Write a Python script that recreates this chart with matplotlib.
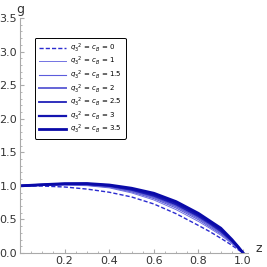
import numpy as np
import matplotlib
matplotlib.use('Agg')
import matplotlib.pyplot as plt

# ── 데이터 ──────────────────────────────────────────
z = [0.0, 0.1, 0.2, 0.3, 0.4, 0.5, 0.6, 0.7, 0.8, 0.85, 0.9, 0.95, 0.98, 1.0]

g_c0 = [1.0, 0.997, 0.983, 0.952, 0.905, 0.835, 0.73, 0.585, 0.41, 0.32, 0.22, 0.115, 0.045, 0.0]
g_c1 = [1.0, 1.008, 1.012, 1.003, 0.97, 0.895, 0.79, 0.645, 0.47, 0.37, 0.265, 0.14, 0.055, 0.0]
g_c15 = [1.0, 1.010, 1.017, 1.010, 0.98, 0.91, 0.81, 0.67, 0.495, 0.39, 0.285, 0.152, 0.06, 0.0]
g_c2 = [1.0, 1.012, 1.022, 1.018, 0.99, 0.925, 0.83, 0.695, 0.52, 0.415, 0.305, 0.165, 0.066, 0.0]
g_c25 = [1.0, 1.014, 1.026, 1.024, 0.998, 0.94, 0.85, 0.72, 0.545, 0.44, 0.325, 0.177, 0.072, 0.0]
g_c3 = [1.0, 1.016, 1.030, 1.030, 1.006, 0.953, 0.87, 0.743, 0.568, 0.46, 0.348, 0.19, 0.078, 0.0]
g_c35 = [1.0, 1.018, 1.033, 1.035, 1.013, 0.965, 0.89, 0.765, 0.59, 0.48, 0.37, 0.20, 0.084, 0.0]

labels = ['0', '1', '1.5', '2', '2.5', '3', '3.5']
series = [g_c0, g_c1, g_c15, g_c2, g_c25, g_c3, g_c35]

colors = ['#2b2bd0', '#7272e2', '#5c5cdc', '#6464d6', '#2020b8', '#1414b0', '#0a0aa8']
widths = [1.0, 0.7, 0.8, 1.4, 1.3, 1.6, 2.0]
styles = ['--', '-', '-', '-', '-', '-', '-']

# ── 그림 ──────────────────────────────────────────────────
fig = plt.figure(figsize=(2.67, 2.67), dpi=100)
ax = fig.add_axes([20 / 267, 14 / 267, 228 / 267, 235 / 267])

for g, lab, c, w, s in zip(series, labels, colors, widths, styles):
    ax.plot(z, g, color=c, lw=w, ls=s,
            dashes=(3, 1.5) if s == '--' else (None, None),
            label=r'$q_3{}^2$ = $c_B$ = ' + lab)

ax.set_xlim(0, 1.022)
ax.set_ylim(0, 3.5)
ax.set_xticks([0.2, 0.4, 0.6, 0.8, 1.0])
ax.set_xticklabels(['0.2', '0.4', '0.6', '0.8', '1.0'])
ax.set_xticks(np.arange(0.05, 1.01, 0.05), minor=True)
ax.set_yticks(np.arange(0, 3.51, 0.5))
ax.set_yticklabels([f'{v:.1f}' for v in np.arange(0, 3.51, 0.5)])
ax.set_yticks(np.arange(0, 3.51, 0.1), minor=True)

for side in ['top', 'right']:
    ax.spines[side].set_visible(False)
for side in ['left', 'bottom']:
    ax.spines[side].set_color('#aaaaaa')
    ax.spines[side].set_linewidth(0.8)

ax.tick_params(which='both', direction='in', color='#aaaaaa', labelcolor='#333333',
               labelsize=8, pad=2)
ax.tick_params(which='major', length=3)
ax.tick_params(which='minor', length=1.5)

fig.text(20 / 267, 1 - 9 / 267, 'g', fontsize=9, color='#333333', ha='center', va='center')
fig.text(259 / 267, 1 - 249 / 267, 'z', fontsize=9, color='#333333', ha='center', va='center')

leg = ax.legend(loc='upper left', bbox_to_anchor=(0.066, 0.915), borderaxespad=0,
                fontsize=5, handlelength=3.9, handletextpad=0.7, labelspacing=0.15,
                borderpad=0.5, fancybox=True, framealpha=1, edgecolor='black')
leg.get_frame().set_linewidth(0.7)

plt.savefig('out.png', dpi=100)
